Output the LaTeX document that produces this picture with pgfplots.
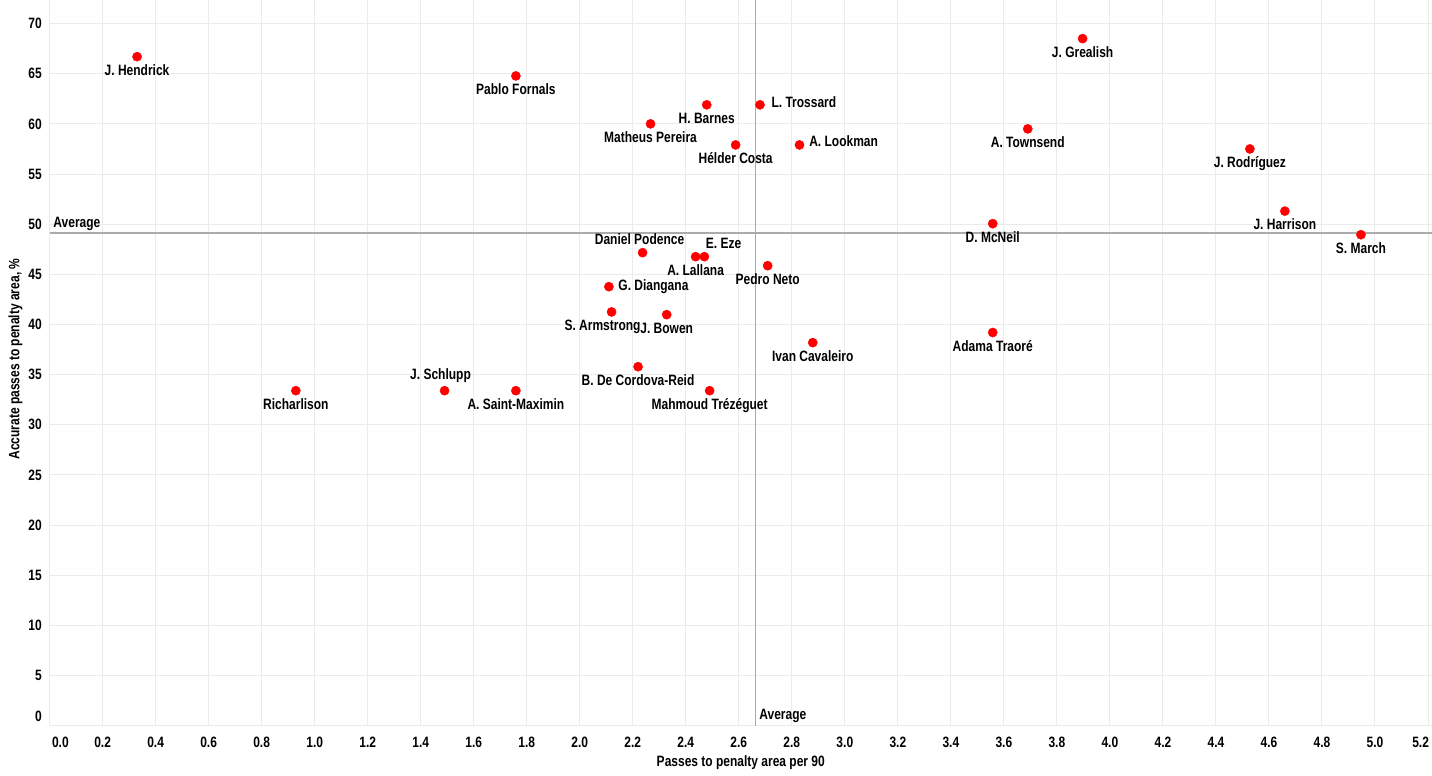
\documentclass[border=0pt]{standalone}
\usepackage{fontspec}
\setmainfont{Liberation Sans}[FakeStretch=0.8]
\usepackage{pgfplots}
\usepackage{pgfplotstable}
\pgfplotsset{compat=1.18}

% labels centred on the point (anchor = base)
\pgfplotstableread{
x y dx dy label
0.330 66.70 0 -18.5 {J. Hendrick}
1.759 64.78 0 -18.5 {Pablo Fornals}
2.479 61.90 0 -18.5 {H. Barnes}
2.267 60.00 0 -18.5 {Matheus Pereira}
2.588 57.90 0 -18.5 {Hélder Costa}
3.897 68.50 0 -18.5 {J. Grealish}
3.690 59.50 0 -18.5 {A. Townsend}
4.528 57.50 0 -18.5 {J. Rodríguez}
3.558 50.05 0 -18.5 {D. McNeil}
4.660 51.30 0 -18.5 {J. Harrison}
4.947 48.95 0 -18.5 {S. March}
3.558 39.20 0 -18.5 {Adama Traoré}
2.237 47.16 -3 8.4 {Daniel Podence}
2.437 46.76 0 -18.5 {A. Lallana}
2.709 45.86 0 -18.5 {Pedro Neto}
2.120 41.25 -9 -18.5 {S. Armstrong}
2.328 40.98 0 -18.5 {J. Bowen}
2.879 38.19 0 -18.5 {Ivan Cavaleiro}
2.220 35.79 0 -18.5 {B. De Cordova-Reid}
2.490 33.40 0 -18.5 {Mahmoud Trézéguet}
1.759 33.40 0 -18.5 {A. Saint-Maximin}
0.929 33.40 0 -18.5 {Richarlison}
1.490 33.40 -4 10.7 {J. Schlupp}
}\playersC

% labels to the right of the point (anchor = base west)
\pgfplotstableread{
x y dx dy label
2.680 61.90 11.3 -2.6 {L. Trossard}
2.829 57.90 9.6 -2 {A. Lookman}
2.470 46.76 1.4 7.7 {E. Eze}
2.110 43.77 9.3 -4 {G. Diangana}
}\playersW

\begin{document}
\begin{tikzpicture}[font=\fontsize{15}{18}\selectfont\bfseries]
\begin{axis}[
  at={(49.6pt,50.3pt)}, anchor=south west,
  scale only axis, width=1382.4pt, height=725.7pt,
  xmin=0, xmax=5.215, ymin=0, ymax=72.35,
  axis line style={draw=none},
  major tick length=0pt,
  grid=major, grid style={draw=black!8, line width=1pt},
  xtick={0.2,0.4,0.6,0.8,1.0,1.2,1.4,1.6,1.8,2.0,2.2,2.4,2.6,2.8,3.0,3.2,3.4,3.6,3.8,4.0,4.2,4.4,4.6,4.8,5.0},
  extra x ticks={0,5.2},
  extra x tick labels={\hspace*{21.6pt}0.0, 5.2\hspace*{14.8pt}},
  ytick={5,10,15,20,25,30,35,40,45,50,55,60,65,70},
  extra y ticks={0},
  extra y tick labels={0},
  extra y tick style={yticklabel style={yshift=9.7pt}},
  xticklabel style={/pgf/number format/fixed, /pgf/number format/fixed zerofill, /pgf/number format/precision=1, /pgf/number format/assume math mode=true},
  yticklabel style={/pgf/number format/assume math mode=true},
  x tick label style={anchor=north, inner sep=0pt, yshift=-11.5pt, font=\fontsize{15}{18}\selectfont\bfseries},
  y tick label style={anchor=east, inner sep=0pt, xshift=-7.6pt, font=\fontsize{15}{18}\selectfont\bfseries},
  xlabel={Passes to penalty area per 90},
  ylabel={Accurate passes to penalty area, \%},
  xlabel style={at={(axis description cs:0.5,-0.0558)}, anchor=base, inner sep=0pt, font=\fontsize{15}{18}\selectfont\bfseries},
  ylabel style={at={(axis description cs:-0.0219,0.5053)}, anchor=base, inner sep=0pt, font=\fontsize{15}{18}\selectfont\bfseries},
  mypts/.style={only marks, color=red, mark=*, mark size=4.6pt, mark options={fill=red, draw=red, line width=0.4pt},
    point meta=explicit symbolic,
    visualization depends on={\thisrow{dx}\as\mydx},
    visualization depends on={\thisrow{dy}\as\mydy},
    nodes near coords,
    every node near coord/.append style={xshift=\mydx pt, yshift=\mydy pt, inner sep=0pt, text=black, font=\fontsize{15}{18}\selectfont\bfseries}},
]
\addplot[draw=black!33, line width=1.8pt, no marks] coordinates {(0,49.13) (5.215,49.13)};
\addplot[draw=black!33, line width=1.8pt, no marks] coordinates {(2.663,0) (2.663,72.35)};
\addplot[mypts, every node near coord/.append style={anchor=base}] table[x=x, y=y, meta=label] {\playersC};
\addplot[mypts, every node near coord/.append style={anchor=base west}] table[x=x, y=y, meta=label] {\playersW};
\node[anchor=base west, inner sep=0pt, xshift=3.7pt, yshift=5pt] at (axis cs:0,49.13) {Average};
\node[anchor=base west, inner sep=0pt, xshift=3.7pt, yshift=5.7pt] at (axis cs:2.663,0) {Average};
\end{axis}
\pgfresetboundingbox
\path[use as bounding box] (0,0) rectangle (1432pt,776pt);
\end{tikzpicture}
\end{document}
